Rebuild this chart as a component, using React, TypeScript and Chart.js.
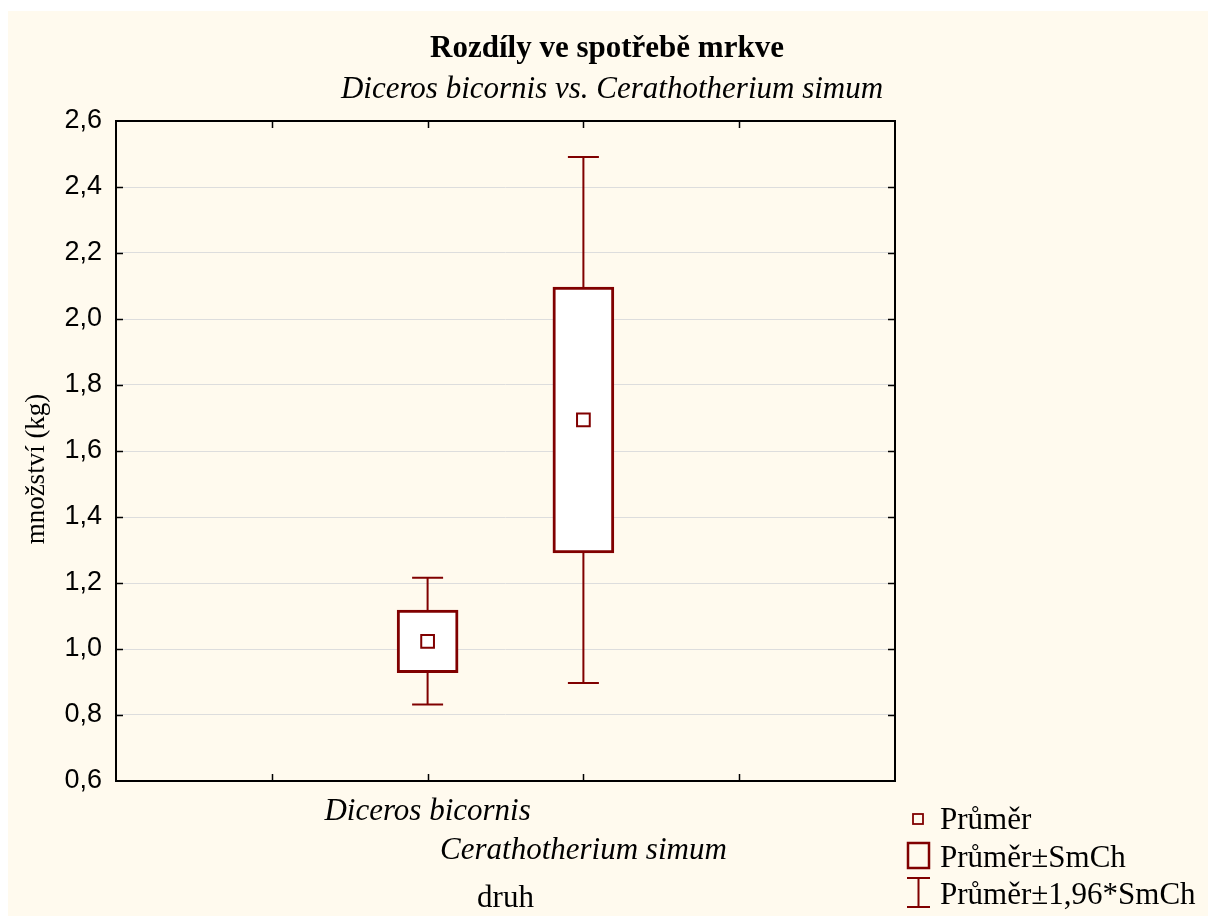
import React, { useEffect, useRef } from "react";
import { Chart, registerables } from "chart.js";

Chart.register(...registerables);

// ---- data ----
const categories = ["Diceros bicornis", "Cerathotherium simum"];
const categoryPositions = [2, 3];
const means = [1.023, 1.694];
const seLow = [0.928, 1.291];
const seHigh = [1.118, 2.097];
const ciLow = [0.832, 0.897];
const ciHigh = [1.216, 2.491];
const yTicks = [0.6, 0.8, 1.0, 1.2, 1.4, 1.6, 1.8, 2.0, 2.2, 2.4, 2.6];
const xTickPositions = [1, 2, 3, 4];
const legendLabels = ["Průměr", "Průměr±SmCh", "Průměr±1,96*SmCh"];
const titleText = "Rozdíly ve spotřebě mrkve";
const subtitleText = "Diceros bicornis vs. Cerathotherium simum";
const yTitleText = "množství (kg)";
const xTitleText = "druh";

const RED = "#800000";
const SERIF = "'Liberation Serif', 'Times New Roman', serif";
const SANS = "'Liberation Sans', Arial, sans-serif";

const decorPlugin = {
  id: "decor",
  beforeDatasetsDraw(chart: any) {
    const { ctx } = chart;
    const xs = chart.scales.x;
    const ys = chart.scales.y;
    ctx.save();
    ctx.strokeStyle = RED;
    ctx.lineWidth = 2;
    categoryPositions.forEach((pos, i) => {
      const x = xs.getPixelForValue(pos);
      const yl = ys.getPixelForValue(ciLow[i]);
      const yh = ys.getPixelForValue(ciHigh[i]);
      ctx.beginPath();
      ctx.moveTo(x, yl);
      ctx.lineTo(x, yh);
      ctx.moveTo(x - 15.5, yl);
      ctx.lineTo(x + 15.5, yl);
      ctx.moveTo(x - 15.5, yh);
      ctx.lineTo(x + 15.5, yh);
      ctx.stroke();
    });
    ctx.restore();
  },
  afterDatasetsDraw(chart: any) {
    const { ctx, chartArea } = chart;
    const { left, right, top, bottom } = chartArea;
    const xs = chart.scales.x;
    const ys = chart.scales.y;
    ctx.save();
    ctx.strokeStyle = "#000";
    ctx.lineWidth = 1.5;
    ctx.beginPath();
    yTicks.slice(1, -1).forEach((v) => {
      const y = Math.round(ys.getPixelForValue(v)) + 0.5;
      ctx.moveTo(left, y);
      ctx.lineTo(left + 7, y);
      ctx.moveTo(right - 7, y);
      ctx.lineTo(right, y);
    });
    xTickPositions.forEach((v) => {
      const x = Math.round(xs.getPixelForValue(v)) + 0.5;
      ctx.moveTo(x, top);
      ctx.lineTo(x, top + 7);
      ctx.moveTo(x, bottom - 7);
      ctx.lineTo(x, bottom);
    });
    ctx.stroke();
    ctx.lineWidth = 2;
    ctx.strokeRect(left, top, right - left, bottom - top);
    ctx.restore();
  },
  afterDraw(chart: any) {
    const { ctx, chartArea } = chart;
    const xs = chart.scales.x;
    ctx.save();
    ctx.fillStyle = "#000";
    ctx.textAlign = "center";
    ctx.textBaseline = "alphabetic";
    ctx.font = `bold 31px ${SERIF}`;
    ctx.fillText(titleText, 599, 46);
    ctx.font = `italic 31px ${SERIF}`;
    ctx.fillText(subtitleText, 604, 87);

    // x category labels (staggered)
    ctx.font = `italic 31px ${SERIF}`;
    const baselines = [809, 848];
    categoryPositions.forEach((pos, i) => {
      ctx.fillText(categories[i], xs.getPixelForValue(pos), baselines[i]);
    });
    ctx.font = `31px ${SERIF}`;
    ctx.fillText(xTitleText, (chartArea.left + chartArea.right) / 2, 896);

    // y title
    ctx.save();
    ctx.translate(29, 458);
    ctx.rotate(-Math.PI / 2);
    ctx.textBaseline = "middle";
    ctx.font = `27px ${SERIF}`;
    ctx.fillText(yTitleText, 0, 0);
    ctx.restore();

    // legend
    ctx.textAlign = "left";
    ctx.font = `31px ${SERIF}`;
    const lb = [818, 856, 893];
    legendLabels.forEach((t, i) => ctx.fillText(t, 932, lb[i]));
    ctx.strokeStyle = RED;
    ctx.lineWidth = 1.8;
    ctx.strokeRect(905, 803, 10, 10);
    ctx.lineWidth = 2.5;
    ctx.strokeRect(900, 832, 21, 25);
    ctx.lineWidth = 2;
    ctx.beginPath();
    ctx.moveTo(910.5, 867);
    ctx.lineTo(910.5, 896);
    ctx.moveTo(899, 867);
    ctx.lineTo(922, 867);
    ctx.moveTo(899, 896);
    ctx.lineTo(922, 896);
    ctx.stroke();
    ctx.restore();
  },
};

export default function App() {
  const ref = useRef<HTMLCanvasElement | null>(null);
  useEffect(() => {
    if (!ref.current) return;
    const chart = new Chart(ref.current, {
      type: "bar",
      data: {
        datasets: [
          {
            type: "scatter",
            label: legendLabels[0],
            data: categoryPositions.map((x, i) => ({ x, y: means[i] })),
            pointStyle: "rect",
            pointRadius: 9,
            pointBorderWidth: 2,
            borderColor: RED,
            backgroundColor: "#ffffff",
            order: 1,
          } as any,
          {
            type: "bar",
            label: legendLabels[1],
            data: categoryPositions.map((x, i) => ({ x, y: [seLow[i], seHigh[i]] })) as any,
            backgroundColor: "#ffffff",
            borderColor: RED,
            borderWidth: 3,
            borderSkipped: false,
            barThickness: 61,
            order: 2,
          } as any,
        ],
      },
      options: {
        responsive: false,
        animation: false,
        layout: { padding: { top: 110, right: 313, left: 0, bottom: 0 } },
        plugins: {
          legend: { display: false },
          tooltip: { enabled: false },
          title: { display: false },
        },
        scales: {
          x: {
            type: "linear",
            min: 0,
            max: 5,
            offset: false,
            ticks: { display: false },
            grid: { display: false, offset: false },
            border: { display: false },
            afterFit: (s: any) => {
              s.height = 135;
            },
          },
          y: {
            type: "linear",
            min: 0.6,
            max: 2.6,
            afterBuildTicks: (s: any) => {
              s.ticks = yTicks.map((v) => ({ value: v }));
            },
            ticks: {
              padding: 14,
              color: "#000",
              font: { family: SANS, size: 27 },
              callback: (v: any) => Number(v).toFixed(1).replace(".", ","),
            },
            grid: { color: "#dddddd", lineWidth: 1, drawTicks: false },
            border: { display: false },
            afterFit: (s: any) => {
              s.width = 108;
            },
          },
        },
      } as any,
      plugins: [decorPlugin],
    });
    return () => chart.destroy();
  }, []);
  return (
    <div
      style={{
        position: "absolute",
        left: 8,
        top: 11,
        width: 1200,
        height: 905,
        background: "#fffaee",
      }}
    >
      <canvas ref={ref} width={1200} height={905} style={{ display: "block" }} />
    </div>
  );
}
